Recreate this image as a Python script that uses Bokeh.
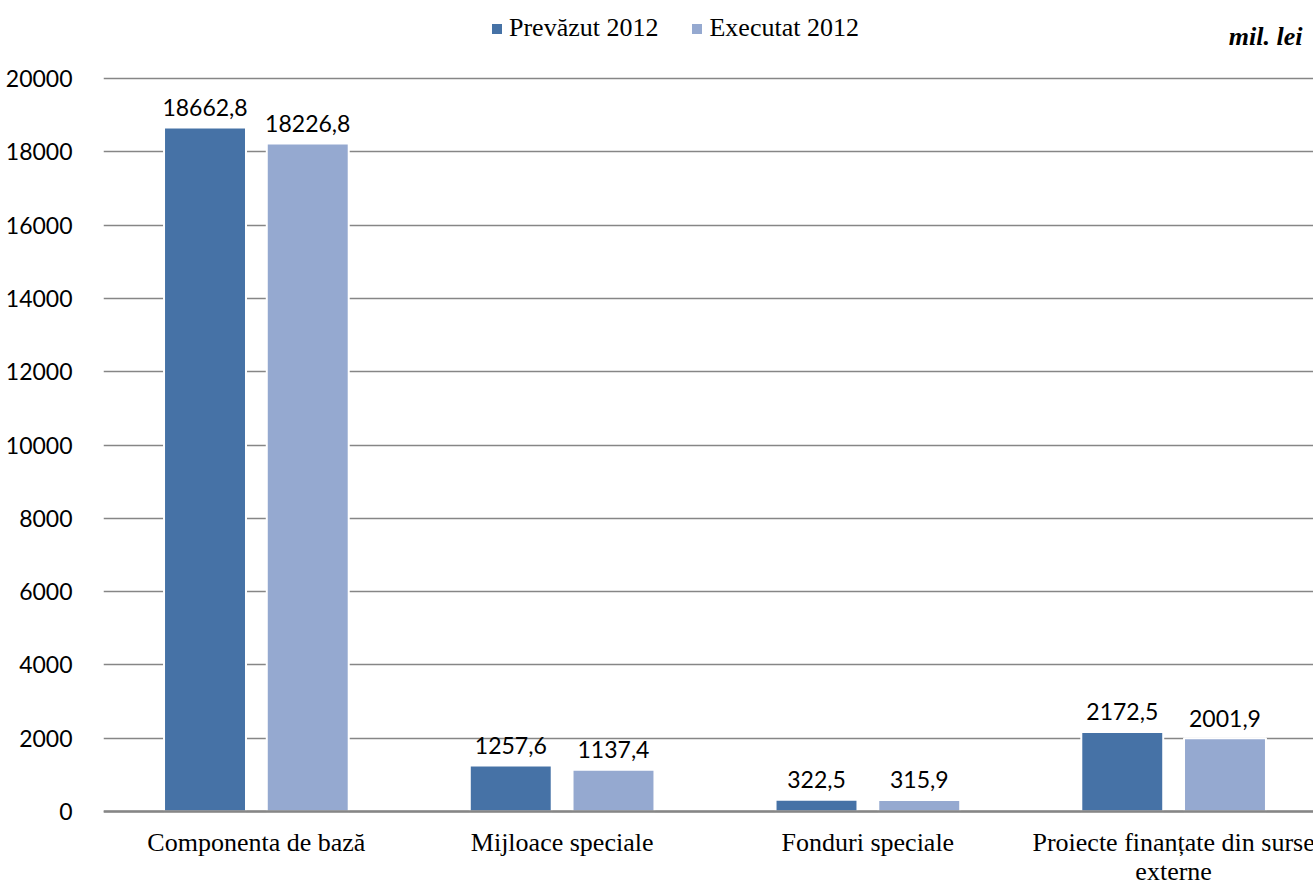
from bokeh.plotting import figure
from bokeh.models import (ColumnDataSource, Range1d, FixedTicker, Legend, LegendItem,
                          Label, Span)
from bokeh.transform import dodge
from bokeh.embed import file_html
from bokeh.resources import INLINE
from bokeh.core.properties import value

categories = ["Componenta de bază", "Mijloace speciale", "Fonduri speciale",
              "Proiecte finanțate din surse\nexterne"]
prevazut = [18662.8, 1257.6, 322.5, 2172.5]
executat = [18226.8, 1137.4, 315.9, 2001.9]
series_names = ["Prevăzut 2012", "Executat 2012"]
y_ticks = [0, 2000, 4000, 6000, 8000, 10000, 12000, 14000, 16000, 18000, 20000]
unit_label = "mil. lei"

C_PREV = "#4672A6"
C_EXE = "#95A9D0"
GRID = "#868686"
SANS = "Lato"
SERIF = "Liberation Serif"

# layout (pixels)
W, H = 1313, 881
LEFT = 103            # frame left
TOP_PX = 78           # pixel row of the top tick
ZERO_PX = 811         # pixel row of the zero line
CAT_PX = 305.75       # width of one category in pixels

y_max = y_ticks[-1]
units_per_px = y_max / (ZERO_PX - TOP_PX)
y_start = -(H - ZERO_PX) * units_per_px
y_end = y_max + TOP_PX * units_per_px
x_end = (W - LEFT) / CAT_PX


def fmt(v):
    return f"{v:.1f}".replace(".", ",")


xpos = [i + 0.5 for i in range(len(categories))]
src = ColumnDataSource(dict(
    x=xpos,
    prev=prevazut,
    exe=executat,
    prev_lbl=[fmt(v) for v in prevazut],
    exe_lbl=[fmt(v) for v in executat],
    cat=categories,
    zero=[0] * len(categories),
))

p = figure(width=W, height=H,
           x_range=Range1d(0, x_end), y_range=Range1d(y_start, y_end),
           output_backend="svg", toolbar_location=None,
           min_border_left=LEFT, min_border_right=0,
           min_border_top=0, min_border_bottom=0)
p.outline_line_color = None
p.background_fill_color = "white"
p.border_fill_color = "white"

p.xgrid.grid_line_color = None
p.ygrid.grid_line_color = GRID
p.ygrid.grid_line_width = 1.5
p.add_layout(Span(location=0, dimension="width", line_color=GRID, line_width=2.5))

off = 0.168
bw = 0.268
r1 = p.vbar(x=dodge("x", -off, range=p.x_range), top="prev", width=bw, source=src,
            fill_color=C_PREV, line_color="white", line_width=2)
r2 = p.vbar(x=dodge("x", off, range=p.x_range), top="exe", width=bw, source=src,
            fill_color=C_EXE, line_color="white", line_width=2)

for col, lbl, o in (("prev", "prev_lbl", -off), ("exe", "exe_lbl", off)):
    p.text(x=dodge("x", o, range=p.x_range), y=col, text=lbl, source=src,
           text_font=value(SANS), text_font_size="23px", text_color="#000000",
           text_align="center", text_baseline="alphabetic", y_offset=-20)

# category labels below the zero line
p.text(x="x", y="zero", text="cat", source=src,
       text_font=value(SERIF), text_font_size="26px", text_color="#000000",
       text_align="center", text_baseline="top", y_offset=16, text_line_height=1.0)

# y axis
p.yaxis.ticker = FixedTicker(ticks=y_ticks)
p.yaxis.axis_line_color = None
p.yaxis.major_tick_line_color = None
p.yaxis.minor_tick_line_color = None
p.yaxis.major_label_text_font = SANS
p.yaxis.major_label_text_font_size = "23px"
p.yaxis.major_label_text_color = "#000000"
p.yaxis.major_label_standoff = 25

p.xaxis.visible = False

legend = Legend(items=[LegendItem(label=series_names[0], renderers=[r1]),
                       LegendItem(label=series_names[1], renderers=[r2])],
                orientation="horizontal", location=(386, H - 43),
                glyph_width=15, glyph_height=15, label_standoff=5, spacing=31,
                padding=0, margin=0, border_line_color=None,
                background_fill_alpha=0,
                label_text_font=SERIF, label_text_font_size="26px",
                label_text_color="#000000")
p.add_layout(legend, "center")

p.add_layout(Label(x=W - LEFT - 11, y=H - 36, x_units="screen", y_units="screen",
                   text=unit_label, text_align="right", text_baseline="alphabetic",
                   text_font=SERIF, text_font_size="26px", text_font_style="bold italic",
                   text_color="#000000"))

open("out.html", "w").write(file_html(p, INLINE))
